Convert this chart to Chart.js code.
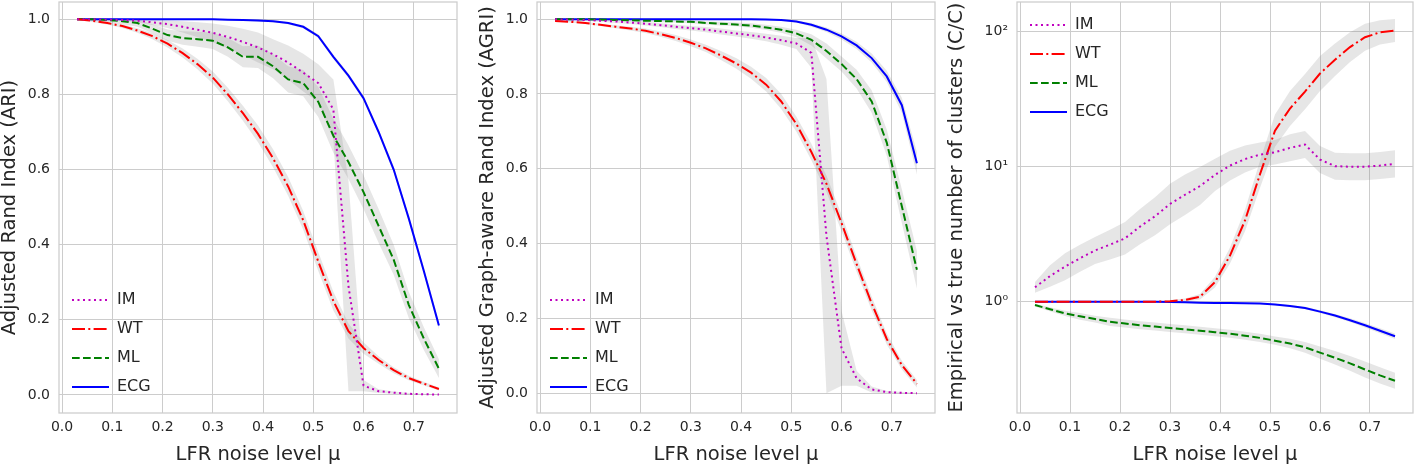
<!DOCTYPE html>
<html>
<head>
<meta charset="utf-8">
<script src="https://cdn.jsdelivr.net/npm/chart.js@4.4.0/dist/chart.umd.min.js"></script>
<style>
  body { margin: 0; background: #fff; width: 1415px; height: 465px; position: relative; overflow: hidden; }
  canvas { position: absolute; top: 0; }
</style>
</head>
<body>
<canvas id="ariChart" width="462" height="465" style="left:0px"></canvas>
<canvas id="agriChart" width="462" height="465" style="left:478px"></canvas>
<canvas id="ratioChart" width="468" height="465" style="left:947px"></canvas>
<script>
// noise levels (x values)
const mu = [0.03, 0.06, 0.09, 0.12, 0.15, 0.18, 0.21, 0.24, 0.27, 0.30, 0.33, 0.36, 0.39,
            0.42, 0.45, 0.48, 0.51, 0.54, 0.57, 0.60, 0.63, 0.66, 0.69, 0.72, 0.75];

const methods = ['IM', 'WT', 'ML', 'ECG'];
const xTicks = [0, 0.1, 0.2, 0.3, 0.4, 0.5, 0.6, 0.7];
const scoreTicks = [0, 0.2, 0.4, 0.6, 0.8, 1.0];
const ratioTicks = [1, 10, 100];
const ratioTickLabels = ['10⁰', '10¹', '10²'];

// Adjusted Rand Index (ARI)
const ariIM  = [1.0, 1.0, 0.999, 0.998, 0.996, 0.992, 0.987, 0.98, 0.972, 0.964, 0.953, 0.94, 0.925, 0.907, 0.885, 0.858, 0.83, 0.76, 0.29, 0.025, 0.01, 0.006, 0.003, 0.002, 0.001];
const ariWT  = [1.0, 0.996, 0.99, 0.982, 0.97, 0.955, 0.935, 0.91, 0.88, 0.845, 0.80, 0.75, 0.695, 0.63, 0.555, 0.465, 0.355, 0.25, 0.17, 0.125, 0.093, 0.066, 0.045, 0.03, 0.016];
const ariML  = [1.0, 1.0, 0.998, 0.995, 0.99, 0.975, 0.958, 0.95, 0.947, 0.943, 0.925, 0.90, 0.90, 0.875, 0.84, 0.83, 0.78, 0.69, 0.62, 0.54, 0.45, 0.36, 0.24, 0.15, 0.07];
const ariECG = [1.0, 1.0, 1.0, 1.0, 1.0, 1.0, 1.0, 1.0, 1.0, 1.0, 0.999, 0.998, 0.997, 0.995, 0.99, 0.98, 0.955, 0.90, 0.85, 0.79, 0.70, 0.60, 0.47, 0.33, 0.185];
// spread (half width of grey band)
const ariIMsd  = [0, 0, 0, 0.002, 0.004, 0.007, 0.01, 0.015, 0.02, 0.025, 0.03, 0.035, 0.04, 0.04, 0.045, 0.05, 0.05, 0.08, 0.28, 0.015, 0.005, 0.003, 0.002, 0.001, 0.001];
const ariWTsd  = [0.002, 0.003, 0.004, 0.005, 0.006, 0.008, 0.01, 0.012, 0.014, 0.016, 0.018, 0.02, 0.022, 0.024, 0.025, 0.025, 0.025, 0.025, 0.02, 0.015, 0.01, 0.008, 0.006, 0.005, 0.004];
const ariMLsd  = [0.002, 0.003, 0.005, 0.008, 0.01, 0.012, 0.015, 0.018, 0.02, 0.022, 0.025, 0.028, 0.03, 0.032, 0.035, 0.035, 0.04, 0.045, 0.045, 0.045, 0.045, 0.04, 0.035, 0.03, 0.025];
const ariECGsd = [0.002, 0.002, 0.002, 0.002, 0.002, 0.002, 0.002, 0.002, 0.002, 0.002, 0.002, 0.002, 0.003, 0.003, 0.003, 0.004, 0.005, 0.006, 0.006, 0.007, 0.007, 0.008, 0.008, 0.009, 0.01];

// Adjusted Graph-aware Rand Index (AGRI)
const agriIM  = [1.0, 0.999, 0.998, 0.996, 0.994, 0.991, 0.988, 0.984, 0.98, 0.976, 0.972, 0.967, 0.962, 0.957, 0.951, 0.944, 0.935, 0.91, 0.42, 0.12, 0.04, 0.01, 0.003, 0.001, 0.0];
const agriWT  = [0.995, 0.993, 0.99, 0.985, 0.98, 0.975, 0.969, 0.96, 0.95, 0.937, 0.922, 0.903, 0.882, 0.857, 0.825, 0.78, 0.72, 0.645, 0.56, 0.455, 0.345, 0.24, 0.145, 0.075, 0.025];
const agriML  = [1.0, 1.0, 1.0, 0.999, 0.998, 0.997, 0.996, 0.995, 0.994, 0.993, 0.99, 0.988, 0.986, 0.983, 0.978, 0.972, 0.962, 0.945, 0.915, 0.88, 0.84, 0.78, 0.67, 0.50, 0.33];
const agriECG = [1.0, 1.0, 1.0, 1.0, 1.0, 1.0, 1.0, 1.0, 1.0, 1.0, 1.0, 1.0, 1.0, 1.0, 0.999, 0.998, 0.994, 0.985, 0.972, 0.954, 0.93, 0.896, 0.847, 0.77, 0.615];
const agriIMsd  = [0.002, 0.002, 0.003, 0.003, 0.004, 0.004, 0.005, 0.005, 0.006, 0.006, 0.007, 0.008, 0.008, 0.009, 0.01, 0.012, 0.015, 0.04, 0.42, 0.1, 0.02, 0.008, 0.003, 0.002, 0.001];
const agriWTsd  = [0.002, 0.002, 0.003, 0.003, 0.004, 0.005, 0.006, 0.007, 0.008, 0.009, 0.01, 0.012, 0.014, 0.016, 0.018, 0.02, 0.02, 0.022, 0.022, 0.022, 0.02, 0.018, 0.015, 0.012, 0.01];
const agriMLsd  = [0.001, 0.001, 0.001, 0.002, 0.002, 0.002, 0.003, 0.003, 0.003, 0.004, 0.004, 0.005, 0.005, 0.006, 0.007, 0.008, 0.01, 0.015, 0.02, 0.02, 0.025, 0.03, 0.035, 0.045, 0.05];
const agriECGsd = [0.001, 0.001, 0.001, 0.001, 0.001, 0.001, 0.001, 0.001, 0.001, 0.001, 0.001, 0.001, 0.001, 0.002, 0.002, 0.002, 0.003, 0.005, 0.006, 0.008, 0.01, 0.012, 0.015, 0.02, 0.03];

// Empirical vs true number of clusters (log scale), spreads in decades
const ratioIM  = [1.28, 1.55, 1.82, 2.1, 2.4, 2.65, 2.95, 3.6, 4.3, 5.3, 6.2, 7.2, 8.7, 10.2, 11.4, 12.3, 12.8, 13.8, 14.6, 11.3, 10.1, 10.0, 10.0, 10.2, 10.5];
const ratioWT  = [1.0, 1.0, 1.0, 1.0, 1.0, 1.0, 1.0, 1.0, 1.0, 1.01, 1.03, 1.09, 1.4, 2.2, 4.0, 8.8, 18.5, 27, 36, 49, 62, 77, 91, 99, 102];
const ratioML  = [0.945, 0.88, 0.82, 0.78, 0.745, 0.71, 0.69, 0.67, 0.655, 0.64, 0.625, 0.61, 0.595, 0.58, 0.56, 0.54, 0.515, 0.49, 0.46, 0.42, 0.385, 0.35, 0.315, 0.285, 0.26];
const ratioECG = [1.0, 1.0, 1.0, 1.0, 1.0, 1.0, 1.0, 1.0, 1.0, 0.995, 0.99, 0.985, 0.98, 0.978, 0.975, 0.97, 0.955, 0.93, 0.90, 0.845, 0.79, 0.73, 0.67, 0.61, 0.555];
const ratioIMsd  = [0.04, 0.08, 0.1, 0.1, 0.1, 0.11, 0.12, 0.13, 0.14, 0.15, 0.15, 0.14, 0.12, 0.11, 0.1, 0.09, 0.09, 0.1, 0.1, 0.1, 0.1, 0.1, 0.1, 0.1, 0.1];
const ratioWTsd  = [0.005, 0.005, 0.005, 0.005, 0.005, 0.005, 0.005, 0.005, 0.006, 0.008, 0.012, 0.02, 0.04, 0.06, 0.08, 0.1, 0.12, 0.13, 0.13, 0.13, 0.12, 0.11, 0.1, 0.09, 0.085];
const ratioMLsd  = [0.01, 0.015, 0.02, 0.025, 0.025, 0.03, 0.03, 0.03, 0.03, 0.03, 0.03, 0.03, 0.03, 0.03, 0.03, 0.03, 0.03, 0.035, 0.04, 0.045, 0.05, 0.055, 0.06, 0.06, 0.06];
const ratioECGsd = [0.003, 0.003, 0.003, 0.003, 0.003, 0.003, 0.003, 0.004, 0.004, 0.004, 0.004, 0.004, 0.004, 0.004, 0.005, 0.005, 0.006, 0.007, 0.008, 0.01, 0.012, 0.014, 0.016, 0.018, 0.02];

// styles
const lineColors = { IM: '#bf00bf', WT: '#ff0000', ML: '#008000', ECG: '#0000ff' };
const lineDashes = { IM: [2, 3.5], WT: [13, 3.3, 2, 3.3], ML: [7.7, 3.3], ECG: [] };
const bandColor = 'rgba(128, 128, 128, 0.2)';
const textColor = '#262626';
const gridColor = '#cccccc';

Chart.defaults.font.family = "'DejaVu Sans', sans-serif";
Chart.defaults.color = textColor;

function points(vals) {
  return mu.map((x, i) => ({ x: x, y: vals[i] }));
}

// grey bands first, then the lines on top
function makeDatasets(series, spreads, logBand) {
  const sets = [];
  methods.forEach((m, k) => {
    const vals = series[k], sd = spreads[k];
    const upper = vals.map((v, i) => logBand ? v * Math.pow(10, sd[i]) : v + sd[i]);
    const lower = vals.map((v, i) => logBand ? v / Math.pow(10, sd[i]) : v - sd[i]);
    sets.push({ label: m + ' upper', data: points(upper), isBand: true, borderWidth: 0, borderColor: 'transparent',
                pointRadius: 0, fill: false, order: 1 });
    sets.push({ label: m + ' lower', data: points(lower), isBand: true, borderWidth: 0, borderColor: 'transparent',
                pointRadius: 0, fill: '-1', backgroundColor: bandColor, order: 1 });
  });
  methods.forEach((m, k) => {
    sets.push({ label: m, data: points(series[k]), borderColor: lineColors[m], backgroundColor: lineColors[m],
                borderDash: lineDashes[m], borderWidth: 2, pointRadius: 0, fill: false, tension: 0, order: 0 });
  });
  return sets;
}

// light grey box round the plot area
const framePlugin = {
  id: 'frame',
  beforeDatasetsDraw(chart) {
    const a = chart.chartArea, ctx = chart.ctx;
    ctx.save();
    ctx.strokeStyle = gridColor;
    ctx.lineWidth = 1.25;
    ctx.strokeRect(a.left, a.top, a.right - a.left, a.bottom - a.top);
    ctx.restore();
  }
};

// nudge the in-plot legend up or down
const legendShiftPlugin = {
  id: 'legendShift',
  afterLayout(chart, args, opts) {
    if (chart.legend && opts.dy) {
      chart.legend.top += opts.dy;
      chart.legend.bottom += opts.dy;
    }
  }
};

// legend lines keep the dataset dash pattern
function legendLabels(chart) {
  return Chart.defaults.plugins.legend.labels.generateLabels(chart).map(item => {
    const ds = chart.data.datasets[item.datasetIndex];
    item.lineDash = ds.borderDash;
    item.lineWidth = 2;
    item.strokeStyle = ds.borderColor;
    return item;
  });
}

function buildChart(canvasId, datasets, yScale, yWidth, yTitle, legendAlign, legendDy, padRight) {
  yScale.afterFit = s => { s.width = yWidth; s.paddingTop = 0; s.paddingBottom = 0; };
  yScale.grid = { color: gridColor, drawTicks: false };
  yScale.border = { display: false };
  yScale.title = { display: true, text: yTitle, font: { size: 19.5, lineHeight: 1 }, padding: 0 };
  yScale.ticks.padding = 9;
  yScale.ticks.font = { size: 14 };

  return new Chart(document.getElementById(canvasId), {
    type: 'line',
    data: { datasets: datasets },
    options: {
      responsive: false,
      animation: false,
      devicePixelRatio: 1,
      layout: { padding: { top: 2, right: padRight, bottom: 0, left: 0 } },
      plugins: {
        legend: {
          position: 'chartArea',
          align: legendAlign,
          labels: {
            generateLabels: legendLabels,
            filter: (item, data) => !data.datasets[item.datasetIndex].isBand,
            usePointStyle: true,
            pointStyle: 'line',
            pointStyleWidth: 37,
            padding: 13,
            color: textColor,
            font: { size: 16 }
          }
        },
        legendShift: { dy: legendDy },
        tooltip: { enabled: false }
      },
      scales: {
        x: {
          type: 'linear',
          min: -0.006,
          max: 0.786,
          afterBuildTicks: ax => { ax.ticks = xTicks.map(v => ({ value: v })); },
          afterFit: s => { s.height = 52; s.paddingLeft = 0; s.paddingRight = 0; },
          ticks: { callback: v => v.toFixed(1), padding: 6, maxRotation: 0, font: { size: 14 } },
          grid: { color: gridColor, drawTicks: false },
          border: { display: false },
          title: { display: true, text: 'LFR noise level μ', font: { size: 19.5, lineHeight: 1 }, padding: 0 }
        },
        y: yScale
      }
    },
    plugins: [framePlugin, legendShiftPlugin]
  });
}

buildChart('ariChart',
  makeDatasets([ariIM, ariWT, ariML, ariECG], [ariIMsd, ariWTsd, ariMLsd, ariECGsd], false),
  { type: 'linear', min: -0.048, max: 1.046,
    afterBuildTicks: ax => { ax.ticks = scoreTicks.map(v => ({ value: v })); },
    ticks: { callback: v => v.toFixed(1) } },
  59, 'Adjusted Rand Index (ARI)', 'end', -3, 5);

buildChart('agriChart',
  makeDatasets([agriIM, agriWT, agriML, agriECG], [agriIMsd, agriWTsd, agriMLsd, agriECGsd], false),
  { type: 'linear', min: -0.053, max: 1.046,
    afterBuildTicks: ax => { ax.ticks = scoreTicks.map(v => ({ value: v })); },
    ticks: { callback: v => v.toFixed(1) } },
  59, 'Adjusted Graph-aware Rand Index (AGRI)', 'end', -3, 5);

buildChart('ratioChart',
  makeDatasets([ratioIM, ratioWT, ratioML, ratioECG], [ratioIMsd, ratioWTsd, ratioMLsd, ratioECGsd], true),
  { type: 'logarithmic', min: 0.15, max: 166,
    afterBuildTicks: ax => { ax.ticks = ratioTicks.map(v => ({ value: v })); },
    ticks: { callback: v => ratioTickLabels[ratioTicks.indexOf(v)] } },
  70, 'Empirical vs true number of clusters (Ĉ/C)', 'start', 4, 2);
</script>
</body>
</html>
